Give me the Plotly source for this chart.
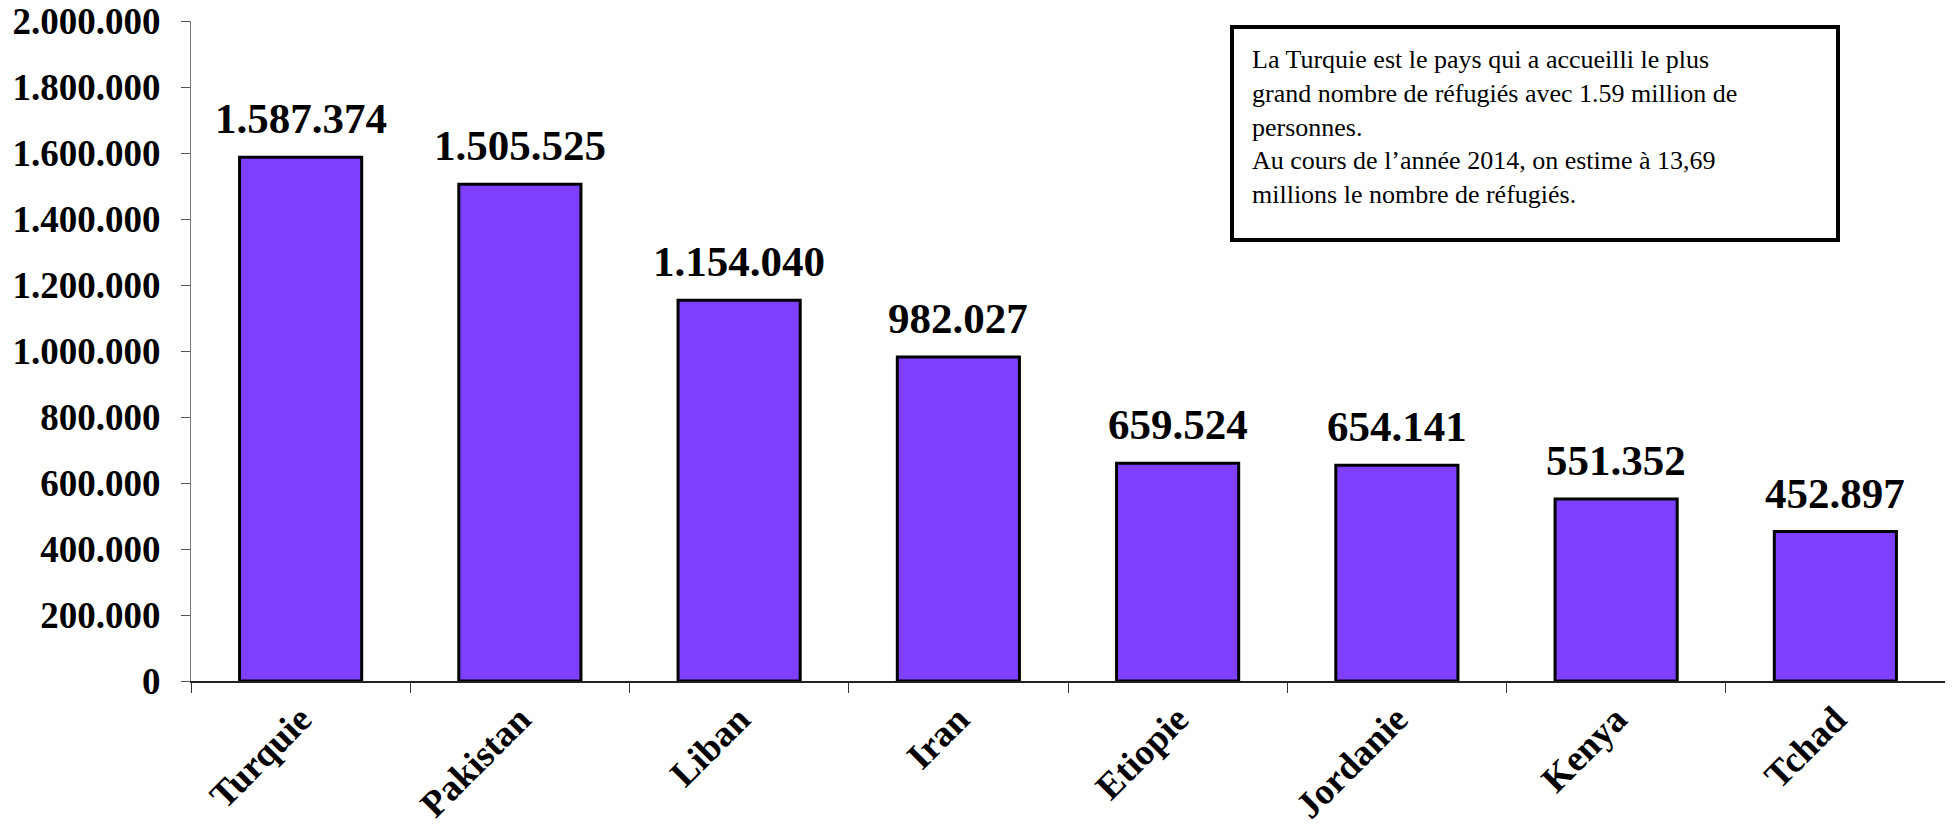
import plotly.graph_objects as go

countries = ["Turquie", "Pakistan", "Liban", "Iran", "Etiopie", "Jordanie", "Kenya", "Tchad"]
refugees = [1587374, 1505525, 1154040, 982027, 659524, 654141, 551352, 452897]
y_ticks = [0, 200000, 400000, 600000, 800000, 1000000, 1200000, 1400000, 1600000, 1800000, 2000000]
note_lines = [
    "La Turquie est le pays qui a accueilli le plus",
    "grand nombre de réfugiés avec 1.59 million de",
    "personnes.",
    "Au cours de l’année 2014, on estime à 13,69",
    "millions le nombre de réfugiés.",
]

SERIF = "Liberation Serif"

fig = go.Figure()
fig.add_trace(go.Bar(
    x=countries,
    y=refugees,
    marker=dict(color="#7F3FFF", line=dict(color="black", width=3)),
    hoverinfo="x+y",
))

for c, v in zip(countries, refugees):
    fig.add_annotation(
        x=c, y=v, xref="x", yref="y",
        text=f"{v:,}".replace(",", "."),
        showarrow=False, yanchor="bottom", yshift=13,
        font=dict(family=SERIF, size=43, color="black", weight="bold"),
    )

fig.add_shape(
    type="rect", xref="paper", yref="paper",
    x0=0.5935, x1=0.939, y0=0.668, y1=0.991,
    line=dict(color="black", width=4), fillcolor="white", layer="above",
)
fig.add_annotation(
    xref="paper", yref="paper", x=0.6035, y=0.967,
    xanchor="left", yanchor="top", align="left", showarrow=False,
    text="<br>".join(note_lines),
    font=dict(family=SERIF, size=26, color="black"),
)

# page body has an 8px default margin, so the figure is 8px smaller
fig.update_layout(
    width=1945, height=818,
    margin=dict(l=183, r=8, t=13, b=145, autoexpand=False),
    paper_bgcolor="white", plot_bgcolor="white",
    bargap=0.443,
    showlegend=False,
    separators=",.",
    xaxis=dict(
        type="category", automargin=False,
        showline=True, linecolor="#222", linewidth=1.5,
        ticks="outside", tickson="boundaries", ticklen=10, tickcolor="#333", tickwidth=1,
        tickangle=-45, ticklabeloverflow="allow",
        tickfont=dict(family=SERIF, size=37, color="black", weight="bold"),
        showgrid=False, zeroline=False,
    ),
    yaxis=dict(
        range=[0, 2000000], automargin=False,
        tickvals=y_ticks,
        tickformat=",d",
        showline=True, linecolor="#777", linewidth=1.2,
        ticks="outside", ticklen=9, tickcolor="#555", tickwidth=1,
        ticklabelstandoff=13, ticklabeloverflow="allow",
        tickfont=dict(family=SERIF, size=37, color="black", weight="bold"),
        showgrid=False, zeroline=False,
    ),
)

fig.write_html("out.html")
